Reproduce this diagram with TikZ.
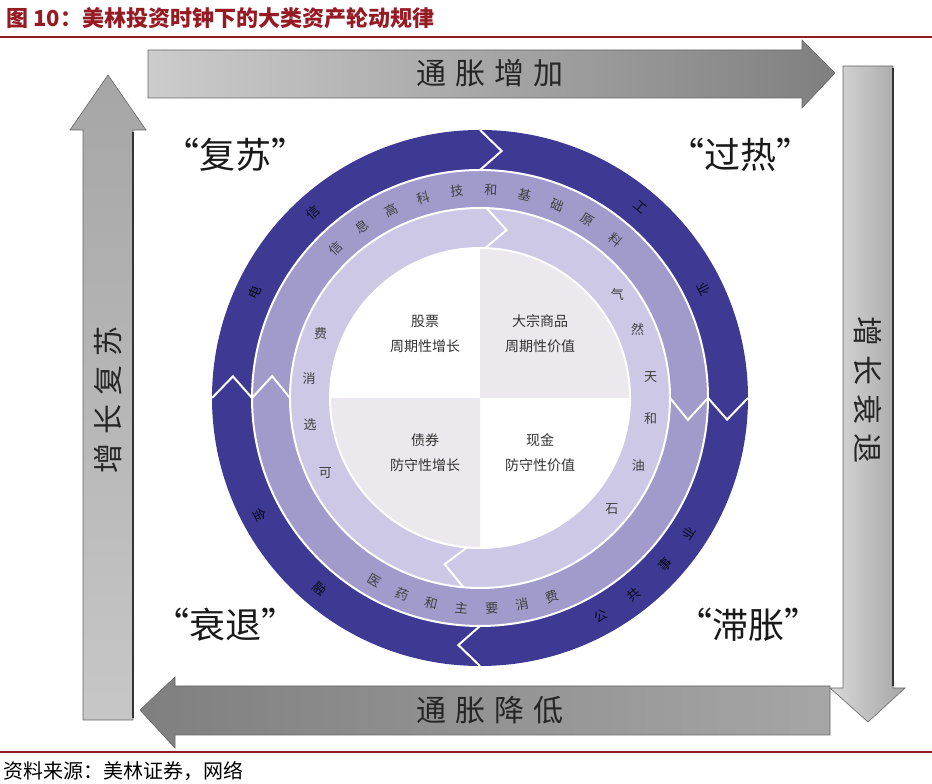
\documentclass[tikz,border=0pt]{standalone}
\usepackage{fontspec}
\setmainfont{Noto Sans CJK SC}
\usetikzlibrary{positioning}

\definecolor{ringdark}{RGB}{62,58,148}
\definecolor{ringmid}{RGB}{160,155,202}
\definecolor{ringpale}{RGB}{204,200,229}
\definecolor{quadgrey}{RGB}{235,233,238}
\definecolor{titlered}{RGB}{150,26,36}

\newcommand{\gap}{\hspace{9pt}}

\tikzset{
  bigarrow/.style={draw=black!60, line width=0.6pt},
  arrowtext/.style={font=\fontsize{30}{30}\selectfont, text=black!85},
  phase/.style={font=\fontsize{36}{36}\selectfont, text=black!90},
  sep/.style={white, line width=2pt},
  ringchar/.style={font=\fontsize{13}{13}\selectfont, text=black!75, inner sep=0pt},
  quadtext/.style={font=\fontsize{14}{25}\selectfont, align=center, text=black!80}
}

\begin{document}
\begin{tikzpicture}[x=1pt, y=1pt]
  \useasboundingbox (0,0) rectangle (932,784);

  % title and rules
  \node[anchor=west, font=\fontsize{22}{22}\selectfont\bfseries, text=titlered]
    (title) at (3,766) {图 10：美林投资时钟下的大类资产轮动规律};
  \draw[titlered, line width=1.5pt] (0,747) -- (932,747);
  \draw[titlered, line width=1.5pt] (0,32) -- (932,32);
  \node[anchor=west, font=\fontsize{20}{20}\selectfont] (source) at (0,13)
    {资料来源：美林证券，网络};

  % four grey arrows
  \shade[bigarrow, left color=black!20, right color=black!50]
    (148,686) -- (802,686) -- (802,676) -- (835,711) -- (802,744)
    -- (802,734) -- (148,734) -- cycle;
  \shade[bigarrow, left color=black!15, right color=black!35]
    (843,718) -- (893,718) -- (893,96) -- (905,96) -- (868,62)
    -- (830,96) -- (843,96) -- cycle;
  \draw[black!80, line width=1.5pt] (893,716) -- (893,98);
  \shade[bigarrow, left color=black!50, right color=black!35]
    (830,49) -- (175,49) -- (175,36) -- (140,74) -- (175,107)
    -- (175,98) -- (830,98) -- cycle;
  \shade[bigarrow, top color=black!35, bottom color=black!22]
    (83,64) -- (133,64) -- (133,654) -- (146,654) -- (108,709)
    -- (70,654) -- (83,654) -- cycle;
  \draw[black!80, line width=1.5pt] (133,66) -- (133,652);

  \node[arrowtext] (up)    at (490,711) {通\gap 胀\gap 增\gap 加};
  \node[arrowtext] (down)  at (490,74)  {通\gap 胀\gap 降\gap 低};
  \node[arrowtext, rotate=-90] (right) at (868,394) {增\gap 长\gap 衰\gap 退};
  \node[arrowtext, rotate=90]  (left)  at (108,384) {增\gap 长\gap 复\gap 苏};

  \node[phase] (recovery)    at (235,629) {“复苏”};
  \node[phase] (overheat)    at (740,629) {“过热”};
  \node[phase] (recession)   at (225,159) {“衰退”};
  \node[phase] (stagflation) at (748,159) {“滞胀”};

  % the clock
  \begin{scope}[shift={(480,386)}]
  \coordinate (clock) at (0,0);
  \fill[ringdark, even odd rule] (clock) circle (268) (clock) circle (228);
  \fill[ringmid, even odd rule] (clock) circle (228) (clock) circle (190);
  \fill[ringpale, even odd rule] (clock) circle (190) (clock) circle (150);
  \fill[white] (clock) circle (150);
  \fill[quadgrey] (clock) -- (0:150) arc (0:90:150) -- cycle;
  \fill[quadgrey] (clock) -- (180:150) arc (180:270:150) -- cycle;
  \draw[sep] (clock) circle (228) (clock) circle (190) (clock) circle (150);

  \foreach \a in {90,0,180,270}
    \draw[sep] (\a:228) -- ({\a-5}:248) -- (\a:268);
  \foreach \a in {0,180}
    \draw[sep] (\a:190) -- ({\a-6}:209) -- (\a:228);
  \foreach \a in {88,265}
    \draw[sep] (\a:150) -- ({\a-7}:170) -- (\a:190);

  % sectors in the outer ring
  \foreach \c/\a in {电/155,信/132,工/50,业/26}
    \node[ringchar, text=black!85!ringdark, rotate=\a-90] (dk-\a) at (\a:249) {\c};
  \foreach \c/\a in {公/299,共/308,事/318,业/327,金/208,融/230}
    \node[ringchar, text=black!85!ringdark, rotate=\a+90] (dk-\a) at (\a:249) {\c};

  % sectors in the middle ring
  \foreach \c [count=\i from 0] in {信,息,高,科,技,和,基,础,原,料}
    \node[ringchar, rotate={134-9.4*\i-90}] (md-\i) at ({134-9.4*\i}:208) {\c};
  \foreach \c [count=\i from 0] in {医,药,和,主,要,消,费}
    \node[ringchar, rotate={240+8.3*\i+90}] (mb-\i) at ({240+8.3*\i}:211) {\c};

  % sectors in the inner ring
  \foreach \c/\a in {石/-40,油/-23,和/-7,天/7,然/23.5,气/37}
    \node[ringchar] (in-\a) at (\a:172) {\c};
  \foreach \c/\a in {费/158,消/173.5,选/189,可/206}
    \node[ringchar] (il-\a) at (\a:172) {\c};

  % assets
  \node[quadtext] (stocks)      at (-55,64)  {股票\\周期性增长};
  \node[quadtext] (commodities) at (60,64)   {大宗商品\\周期性价值};
  \node[quadtext] (bonds)       at (-55,-55) {债券\\防守性增长};
  \node[quadtext] (cash)        at (60,-55)  {现金\\防守性价值};
  \end{scope}
\end{tikzpicture}
\end{document}
